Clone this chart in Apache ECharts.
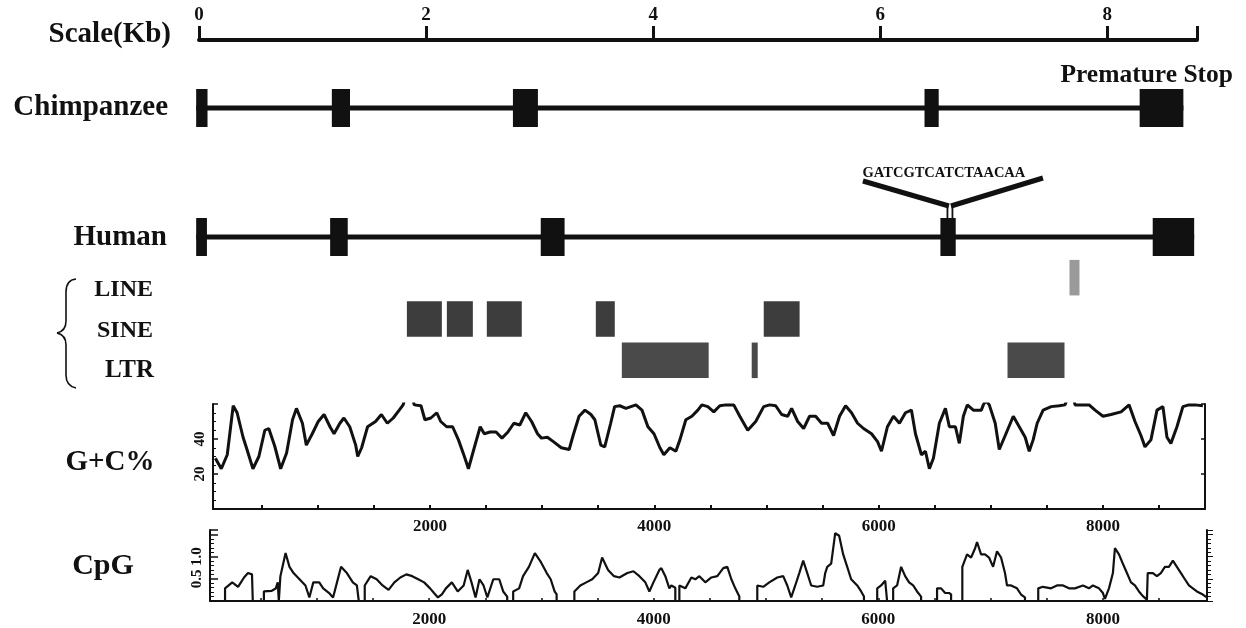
<!DOCTYPE html>
<html><head><meta charset="utf-8">
<script src="https://cdn.jsdelivr.net/npm/echarts@6/dist/echarts.min.js"></script>
<style>html,body{margin:0;padding:0;background:#fff}#c{width:1246px;height:628px}</style>
</head><body><div id="c"></div>
<script>
// ---------- data ----------
const geneLengthBp = 8790;
const scaleTicksBp = [0, 2000, 4000, 6000, 8000];
const chimpExons = [[-25, 75], [1170, 1330], [2765, 2985], [6390, 6515], [8285, 8670]];
const humanExons = [[-25, 70], [1155, 1310], [3010, 3220], [6530, 6665], [8400, 8765]];
const insertionPos = 6614;
const insertionSeq = 'GATCGTCATCTAACAA';
const repeatTypes = ['LINE', 'SINE', 'LTR'];
const lineRepeats = [[7667, 7755]];
const sineRepeats = [[1831, 2139], [2183, 2412], [2535, 2843], [3495, 3662], [4974, 5290]];
const ltrRepeats = [[3724, 4489], [4868, 4921], [7121, 7623]];
const plotTickLabels = [2000, 4000, 6000, 8000];
const plotMinorTicks = [500,1000,1500,2000,2500,3000,3500,4000,4500,5000,5500,6000,6500,7000,7500,8000,8500];
const gcYLabels = [20, 40];
const cpgYLabels = [0.5, 1.0];
const gcPercent = [
[87,29],[140,23],[193,31],[246,59],[281,55],[334,41],[369,34],[422,23],[475,30],[528,45],[563,46],[616,36],[669,23],[722,32],[775,51],[810,57.5],[863,49],[898,36.5],[951,43],[1004,50],[1056,54],[1109,47],[1145,43],[1197,49],[1233,52],[1285,47],[1338,36.5],[1356,30],[1391,35],[1444,47],[1515,50],[1567,54],[1620,49],[1673,52],[1726,56.5],[1761,59.5],[1790,66],[1835,66],[1860,59.5],[1920,59],[1955,51],[2008,52],[2061,55],[2096,50],[2149,47],[2202,47],[2254,39.5],[2307,30],[2343,23],[2395,35],[2448,47],[2484,43],[2536,44],[2589,44],[2642,40.5],[2695,44],[2748,49],[2801,48],[2854,55],[2906,50],[2959,43],[2994,40.5],[3047,41],[3100,38.5],[3171,35],[3241,34],[3276,42],[3329,53],[3382,56.5],[3435,54],[3470,51],[3523,36.5],[3558,35.5],[3611,49],[3646,58.5],[3692,59],
[3747,57.5],[3836,59.5],[3890,56.5],[3943,47],[3997,43],[4050,35],[4085,31],[4139,35],[4192,33],[4228,39.5],[4281,51],[4335,53],[4388,56.5],[4424,59.5],[4477,58.5],[4530,55.5],[4584,59],[4637,59.5],[4708,59.5],[4762,53],[4833,45],[4904,50],[4975,58.5],[5029,59.5],[5082,59],[5135,54],[5189,53],[5224,57.5],[5278,50],[5331,46],[5384,53],[5438,53],[5491,49],[5545,49],[5598,42],[5651,53],[5705,59],[5758,55],[5812,49],[5865,46],[5936,43],[5990,38.5],[6025,33],[6078,47],[6132,53],[6185,49],[6239,55],[6292,56.5],[6328,43],[6381,31],[6417,33],[6452,23],[6488,29],[6541,49],[6595,57.5],[6630,47],[6684,47],[6719,37.5],[6755,53],[6790,59.5],[6844,56.5],[6915,56.5],[6933,59.5],[6955,62],[6986,59.5],[7039,49],[7075,34],[7128,42],[7200,53],[7253,47],[7306,41],[7342,33],[7377,39.5],[7413,49],[7466,56.5],[7538,58.5],[7609,59],[7662,59.5],[7690,65],[7730,65],[7751,59.5],[7804,59.5],[7876,59.5],[7929,56.5],[8000,53],[8071,54],[8161,55.5],[8232,59.5],[8285,50],[8338,42],[8374,35.5],[8427,39.5],[8481,56.5],[8534,58.5],[8570,41],[8605,37.5],[8659,47],[8712,58.5],[8765,59.5],[8819,59.5],[8890,59]
];
const cpgRatio = [
[87,0],[182,0],[182,0.285],[246,0.42],[298,0.32],[351,0.53],[386,0.63],[422,0.6],[429,0.6],[429,0],
[528,0],[528,0.215],[598,0.23],[633,0.28],[651,0.42],[661,0.42],[661,0],[675,0],[675,0.56],[721,1.08],[756,0.77],[792,0.63],[845,0.49],[898,0.35],[933,0.08],[968,0.42],[1021,0.42],[1056,0.285],[1109,0.18],[1144,0.08],[1179,0.42],[1215,0.77],[1267,0.63],[1320,0.42],[1356,0.35],[1373,0.35],[1373,0],
[1426,0],[1426,0.35],[1479,0.56],[1532,0.49],[1585,0.35],[1638,0.25],[1690,0.42],[1743,0.53],[1796,0.6],[1849,0.56],[1902,0.49],[1955,0.42],[2008,0.285],[2043,0.18],[2078,0.08],[2113,0.15],[2149,0.285],[2202,0.42],[2254,0.215],[2307,0.35],[2343,0.7],[2377,0.42],[2413,0.08],[2448,0.49],[2484,0.35],[2518,0.08],[2571,0.49],[2624,0.49],[2659,0.215],[2695,0.1],[2695,0],
[2748,0],[2748,0.215],[2801,0.285],[2836,0.56],[2888,0.77],[2941,1.08],[2994,0.88],[3047,0.63],[3082,0.49],[3117,0.215],[3135,0.15],[3135,0],
[3293,0],[3293,0.215],[3346,0.35],[3399,0.42],[3452,0.49],[3505,0.63],[3540,0.98],[3593,0.7],[3646,0.56],[3694,0.53],
[3765,0.63],[3819,0.67],[3872,0.56],[3925,0.42],[3961,0.215],[3997,0.42],[4050,0.7],[4068,0.74],[4103,0.56],[4139,0.285],[4157,0.35],[4192,0.3],[4192,0],
[4228,0],[4228,0.35],[4281,0.285],[4335,0.53],[4370,0.49],[4406,0.56],[4459,0.42],[4513,0.53],[4566,0.56],[4619,0.74],[4655,0.77],[4691,0.49],[4726,0.285],[4762,0.1],[4762,0],
[4922,0],[4922,0.35],[4975,0.32],[5029,0.42],[5100,0.53],[5153,0.56],[5189,0.35],[5224,0.08],[5260,0.35],[5296,0.63],[5331,0.91],[5367,0.63],[5402,0.35],[5456,0.32],[5509,0.35],[5527,0.63],[5545,0.77],[5580,0.84],[5616,1.53],[5651,1.47],[5687,1.05],[5723,0.77],[5758,0.49],[5812,0.35],[5847,0.215],[5872,0.1],[5872,0],
[5990,0],[5990,0.285],[6025,0.35],[6061,0.46],[6078,0.46],[6078,0],[6132,0],[6132,0.285],[6167,0.35],[6203,0.77],[6239,0.56],[6274,0.42],[6310,0.35],[6345,0.215],[6381,0.1],[6381,0],
[6523,0],[6523,0.285],[6559,0.285],[6595,0.18],[6630,0.18],[6648,0.15],[6648,0],
[6748,0],[6748,0.77],[6790,1.05],[6826,0.98],[6862,1.19],[6879,1.33],[6915,1.05],[6950,1.05],[6986,0.98],[7022,0.77],[7057,1.12],[7093,0.98],[7128,0.63],[7146,0.35],[7182,0.35],[7235,0.285],[7271,0.146],[7306,0.08],[7306,0],
[7424,0],[7424,0.285],[7466,0.32],[7538,0.285],[7591,0.35],[7645,0.35],[7698,0.285],[7751,0.285],[7822,0.35],[7876,0.285],[7911,0.35],[7965,0.285],[8000,0.18],[8018,0.05],[8054,0.285],[8089,0.63],[8107,1.19],[8143,1.05],[8178,0.84],[8214,0.63],[8250,0.42],[8285,0.35],[8321,0.215],[8356,0.11],[8392,0.03],[8399,0.63],[8445,0.63],[8481,0.56],[8516,0.63],[8552,0.77],[8588,0.77],[8623,0.91],[8659,0.77],[8695,0.63],[8730,0.49],[8766,0.35],[8801,0.285],[8837,0.215],[8890,0.146],[8926,0.08]
];

// ---------- chart ----------
const FONT = '"Liberation Serif", "DejaVu Serif", serif';
const INK = '#111';
const repeatColors = ['#9a9a9a', '#3d3d3d', '#4a4a4a'];
const chart = echarts.init(document.getElementById('c'), null, {renderer: 'canvas'});

function hiddenX(gi) {
  return {type: 'value', gridIndex: gi, min: 0, max: geneLengthBp, show: false};
}
function exonRender(params, api) {
  const a = api.coord([api.value(0), 0.5]);
  const b = api.coord([api.value(1), 0.5]);
  const h = api.size([0, 1])[1];
  return {type: 'rect', shape: {x: a[0], y: a[1] - h / 2, width: b[0] - a[0], height: h}, style: {fill: INK}};
}
function backboneRender(params, api) {
  const a = api.coord([api.value(0), 0.5]);
  const b = api.coord([api.value(1), 0.5]);
  return {type: 'rect', shape: {x: a[0], y: a[1] - 2.5, width: b[0] - a[0], height: 5}, style: {fill: INK}};
}
const repeatData = [];
[lineRepeats, sineRepeats, ltrRepeats].forEach((arr, row) => arr.forEach(r => repeatData.push([r[0], r[1], row])));

function label(text, x, y, size, align) {
  return {type: 'text', x: x, y: y, style: {text: text, fontFamily: FONT, fontWeight: 'bold', fontSize: size, fill: INK, align: align || 'right', verticalAlign: 'middle'}};
}
function curve(x1, y1, cx, cy, x2, y2) {
  return {type: 'bezierCurve', shape: {x1: x1, y1: y1, cpx1: cx, cpy1: cy, x2: x2, y2: y2}, style: {stroke: INK, lineWidth: 1.6, fill: null}};
}
const axisTxt = {fontFamily: FONT, fontWeight: 'bold', color: INK};
const plain = v => String(v);

chart.setOption({
  animation: false,
  backgroundColor: '#fff',
  grid: [
    {left: 199, right: 49, top: 0, height: 40},
    {left: 199, right: 49, top: 89, height: 38},
    {left: 199, right: 49, top: 218, height: 38},
    {left: 199, right: 49, top: 257, height: 124},
    {left: 213, right: 41, top: 404, height: 105},
    {left: 210, right: 39, top: 530, height: 77}
  ],
  xAxis: [
    {type: 'value', gridIndex: 0, min: 0, max: geneLengthBp, position: 'bottom',
     axisLine: {show: true, lineStyle: {color: INK, width: 4}},
     axisTick: {show: true, inside: true, length: 14, lineStyle: {color: INK, width: 3}, customValues: scaleTicksBp.concat([geneLengthBp])},
     axisLabel: {show: true, inside: true, margin: 15, fontSize: 19, ...axisTxt, customValues: scaleTicksBp, formatter: v => String(v / 1000)},
     splitLine: {show: false}},
    hiddenX(1), hiddenX(2), hiddenX(3),
    {type: 'value', gridIndex: 4, min: 66, max: 8909,
     axisLine: {show: true, lineStyle: {color: INK, width: 2}},
     axisTick: {show: true, inside: true, length: 4, lineStyle: {color: INK, width: 2}, customValues: plotMinorTicks},
     axisLabel: {show: true, margin: 9, fontSize: 17, ...axisTxt, customValues: plotTickLabels, formatter: plain},
     splitLine: {show: false}},
    {type: 'value', gridIndex: 5, min: 48, max: 8927,
     axisLine: {show: true, lineStyle: {color: INK, width: 2}},
     axisTick: {show: true, inside: true, length: 3, lineStyle: {color: INK, width: 1.5}, customValues: plotMinorTicks},
     axisLabel: {show: true, margin: 10, fontSize: 17, ...axisTxt, customValues: plotTickLabels, formatter: plain},
     splitLine: {show: false}}
  ],
  yAxis: [
    {type: 'value', gridIndex: 0, show: false, min: 0, max: 1},
    {type: 'value', gridIndex: 1, show: false, min: 0, max: 1},
    {type: 'value', gridIndex: 2, show: false, min: 0, max: 1},
    {type: 'category', gridIndex: 3, show: false, inverse: true, data: repeatTypes},
    {type: 'value', gridIndex: 4, min: 0, max: 60, interval: 20, position: 'left',
     axisLine: {show: true, lineStyle: {color: INK, width: 2}},
     axisTick: {show: true, inside: true, length: 5, lineStyle: {color: INK, width: 1.5}},
     minorTick: {show: true, splitNumber: 4, length: 3, lineStyle: {color: INK, width: 1}},
     axisLabel: {show: true, rotate: 90, margin: 5, fontSize: 15, ...axisTxt, customValues: gcYLabels},
     splitLine: {show: false}},
    {type: 'value', gridIndex: 4, min: 0, max: 60, interval: 20, position: 'right',
     axisLine: {show: true, lineStyle: {color: INK, width: 2}},
     axisTick: {show: true, inside: true, length: 4, lineStyle: {color: INK, width: 1.5}},
     axisLabel: {show: false}, splitLine: {show: false}},
    {type: 'value', gridIndex: 5, min: 0, max: 1.6, interval: 0.5, position: 'left',
     axisLine: {show: true, lineStyle: {color: INK, width: 2}},
     axisTick: {show: true, inside: true, length: 8, lineStyle: {color: INK, width: 1.5}},
     minorTick: {show: true, splitNumber: 5, length: 4, lineStyle: {color: INK, width: 1}},
     axisLabel: {show: true, rotate: 90, margin: 5, fontSize: 15, ...axisTxt, customValues: cpgYLabels, formatter: v => v.toFixed(1)},
     splitLine: {show: false}},
    {type: 'value', gridIndex: 5, min: 0, max: 1.6, interval: 0.5, position: 'right',
     axisLine: {show: true, lineStyle: {color: INK, width: 2}},
     axisTick: {show: true, inside: false, length: 6, lineStyle: {color: INK, width: 1}},
     minorTick: {show: true, splitNumber: 5, length: 4, lineStyle: {color: INK, width: 1}},
     axisLabel: {show: false}, splitLine: {show: false}}
  ],
  graphic: [
    label('Scale(Kb)', 171, 35, 29),
    label('Chimpanzee', 168, 108, 29),
    label('Human', 167, 238, 29),
    label('LINE', 153, 290, 24),
    label('SINE', 153, 331, 24),
    label('LTR', 154, 371, 25),
    label('G+C%', 110, 463, 29, 'center'),
    label('CpG', 103, 566, 30, 'center'),
    label('Premature Stop', 1233, 75, 25.5),
    curve(76, 279, 66, 280, 66, 292),
    {type: 'line', shape: {x1: 66, y1: 292, x2: 66, y2: 321}, style: {stroke: INK, lineWidth: 1.6}},
    curve(66, 321, 66, 331, 57, 333),
    curve(57, 333, 66, 335, 66, 345),
    {type: 'line', shape: {x1: 66, y1: 345, x2: 66, y2: 375}, style: {stroke: INK, lineWidth: 1.6}},
    curve(66, 375, 66, 386, 76, 388)
  ],
  series: [
    {type: 'custom', xAxisIndex: 1, yAxisIndex: 1, renderItem: backboneRender, encode: {x: [0, 1]},
     data: [[chimpExons[0][0], chimpExons[chimpExons.length - 1][1]]]},
    {type: 'custom', xAxisIndex: 1, yAxisIndex: 1, renderItem: exonRender, encode: {x: [0, 1]}, data: chimpExons},
    {type: 'custom', xAxisIndex: 2, yAxisIndex: 2, renderItem: backboneRender, encode: {x: [0, 1]},
     data: [[humanExons[0][0], humanExons[humanExons.length - 1][1]]]},
    {type: 'custom', xAxisIndex: 2, yAxisIndex: 2, renderItem: exonRender, encode: {x: [0, 1]}, data: humanExons},
    {type: 'custom', xAxisIndex: 2, yAxisIndex: 2, encode: {x: 0}, data: [[insertionPos]],
     renderItem: function (params, api) {
       const p = api.coord([api.value(0), 1]);
       const x = p[0], y = p[1];
       return {type: 'group', children: [
         {type: 'line', shape: {x1: x - 2.5, y1: y - 12, x2: x - 2.5, y2: y + 1}, style: {stroke: INK, lineWidth: 1.8}},
         {type: 'line', shape: {x1: x + 2.5, y1: y - 12, x2: x + 2.5, y2: y + 1}, style: {stroke: INK, lineWidth: 1.8}},
         {type: 'line', shape: {x1: x - 87, y1: y - 37, x2: x - 1, y2: y - 12}, style: {stroke: INK, lineWidth: 5}},
         {type: 'line', shape: {x1: x + 1, y1: y - 12, x2: x + 93, y2: y - 40}, style: {stroke: INK, lineWidth: 5}},
         {type: 'text', x: x - 6, y: y - 45, style: {text: insertionSeq, fontFamily: FONT, fontWeight: 'bold', fontSize: 14.5, fill: INK, align: 'center', verticalAlign: 'middle'}}
       ]};
     }},
    {type: 'custom', xAxisIndex: 3, yAxisIndex: 3, encode: {x: [0, 1], y: 2}, data: repeatData,
     renderItem: function (params, api) {
       const row = api.value(2);
       const a = api.coord([api.value(0), row]);
       const b = api.coord([api.value(1), row]);
       const h = api.size([0, 1])[1] * 0.86;
       return {type: 'rect', shape: {x: a[0], y: a[1] - h / 2, width: Math.max(b[0] - a[0], 3), height: h}, style: {fill: repeatColors[row]}};
     }},
    {type: 'line', xAxisIndex: 4, yAxisIndex: 4, data: gcPercent, showSymbol: false, symbol: 'none', clip: true,
     lineStyle: {color: INK, width: 3}},
    {type: 'line', xAxisIndex: 5, yAxisIndex: 6, data: cpgRatio, showSymbol: false, symbol: 'none', clip: true,
     lineStyle: {color: INK, width: 2.2}}
  ]
});
</script>
</body></html>
